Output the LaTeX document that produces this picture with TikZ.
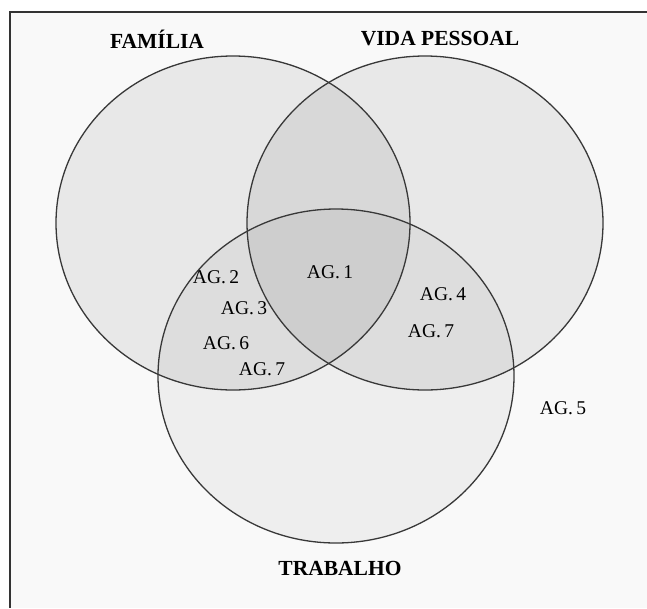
\documentclass[tikz,border=0pt]{standalone}
\usepackage{fontspec}
\setmainfont{Liberation Serif}
\begin{document}
\begin{tikzpicture}[x=1pt,y=-1pt,
  outl/.style={draw=black!78,line width=1.3pt},
  title/.style={font=\fontsize{21.5}{24}\selectfont\bfseries,text=black},
  ag/.style={font=\fontsize{19.5}{22}\selectfont,text=black,inner sep=0pt}]
\useasboundingbox (0,0) rectangle (647,608);
\fill[white] (0,0) rectangle (647,608);
\fill[black!2.5] (10,12) rectangle (647,608);
\draw[black!80,line width=1.4pt] (647,12) -- (10,12) -- (10,608);
% fills
\fill[black,fill opacity=0.065] (233,223) ellipse [x radius=177,y radius=167];
\fill[black,fill opacity=0.065] (425,223) ellipse [x radius=178,y radius=167];
\fill[black,fill opacity=0.045] (336,376) ellipse [x radius=178,y radius=167];
% outlines
\draw[outl] (233,223) ellipse [x radius=177,y radius=167];
\draw[outl] (425,223) ellipse [x radius=178,y radius=167];
\draw[outl] (336,376) ellipse [x radius=178,y radius=167];
% titles
\node[title] (tfam) at (157,39) {FAMÍLIA};
\node[title] (tvida) at (440,39) {VIDA PESSOAL};
\node[title] (ttrab) at (340,568) {TRABALHO};
% agents
\node[ag] (ag1) at (330,272) {AG.\,1};
\node[ag] (ag2) at (216,277) {AG.\,2};
\node[ag] (ag3) at (244,308) {AG.\,3};
\node[ag] (ag6) at (226,343) {AG.\,6};
\node[ag] (ag7a) at (262,369) {AG.\,7};
\node[ag] (ag4) at (443,294) {AG.\,4};
\node[ag] (ag7b) at (431,331) {AG.\,7};
\node[ag] (ag5) at (563,408) {AG.\,5};
\end{tikzpicture}
\end{document}
